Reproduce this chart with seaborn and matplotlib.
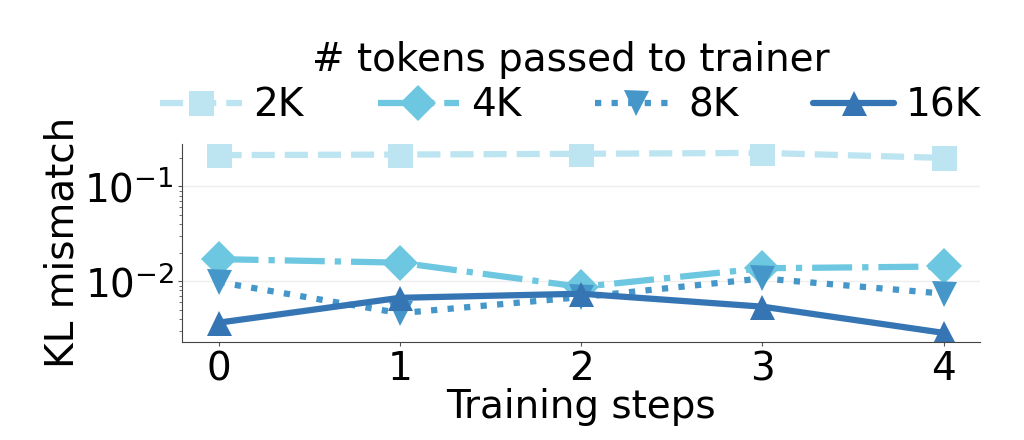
import pandas as pd
import seaborn as sns
import matplotlib.pyplot as plt
import numpy as np

# Data
steps = [0, 1, 2, 3, 4]
kl_2k = [0.214, 0.217, 0.221, 0.226, 0.200]
kl_4k = [0.0171, 0.0157, 0.0087, 0.0137, 0.0143]
kl_8k = [0.0098, 0.0046, 0.0068, 0.0107, 0.0074]
kl_16k = [0.00365, 0.00668, 0.00738, 0.00539, 0.00285]
labels = ['2K', '4K', '8K', '16K']

df = pd.DataFrame({
    'step': steps * 4,
    'kl': kl_2k + kl_4k + kl_8k + kl_16k,
    'tokens': [l for l in labels for _ in steps],
})

palette = {'2K': '#bce5f1', '4K': '#6dc7e0', '8K': '#4497c8', '16K': '#3675b4'}
markers = {'2K': 's', '4K': 'D', '8K': 'v', '16K': '^'}
dashes = {'2K': (3.7, 1.6), '4K': (6.4, 1.6, 1, 1.6), '8K': (1, 1.65), '16K': ''}

sns.set_style('ticks')
plt.rcParams['font.family'] = ['DejaVu Sans']
plt.rcParams['font.size'] = 28
plt.rcParams['text.color'] = 'black'
plt.rcParams['axes.labelcolor'] = 'black'
plt.rcParams['axes.edgecolor'] = '#444444'

fig = plt.figure(figsize=(10.24, 4.4), dpi=100)
ax = fig.add_axes([0.178, 0.223, 0.779, 0.45])

sns.lineplot(data=df, x='step', y='kl', hue='tokens', style='tokens',
             palette=palette, markers=markers, dashes=dashes, ax=ax,
             lw=4.5, markersize=18, markeredgewidth=0)

ax.set_yscale('log')
ax.set_xticks(steps)
ax.set_xlabel('Training steps', fontsize=28, labelpad=0)
ax.set_ylabel('KL mismatch', fontsize=28, labelpad=2)
ax.tick_params(axis='both', which='major', labelsize=28, length=3, width=0.8,
               color='#555555', labelcolor='black', pad=3)
ax.tick_params(axis='y', which='minor', length=2, width=0.6, color='#555555')
ax.grid(axis='y', which='major', color='#eeeeee', lw=1)
ax.set_axisbelow(True)
sns.despine(ax=ax)

handles, lbls = ax.get_legend_handles_labels()
ax.legend(handles, lbls, title='# tokens passed to trainer', ncol=4,
          loc='lower center', bbox_to_anchor=(0.487, 1.0), frameon=False,
          fontsize=28, title_fontsize=28, handlelength=2.1,
          handletextpad=0.3, columnspacing=1.9, borderaxespad=0.1,
          labelspacing=0.2)

fig.savefig('out.png', dpi=100)
